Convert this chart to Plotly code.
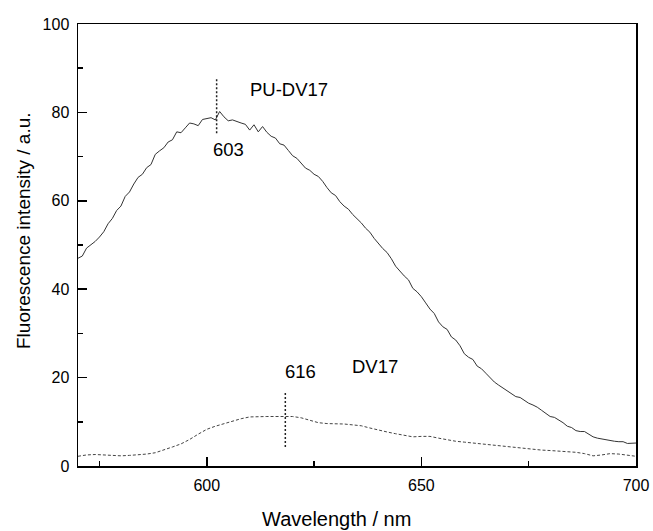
import plotly.graph_objects as go

# PU-DV17 (solid), 1 nm steps 570..700
wl_pu = list(range(570, 701))
pu_dv17 = [47.0, 47.5, 49.3, 50.0, 50.8, 51.8, 53.0, 54.8, 56.0, 57.8,
           58.8, 61.0, 62.0, 63.8, 65.3, 66.0, 67.5, 68.2, 70.5, 71.3,
           72.0, 73.3, 73.8, 75.6, 75.4, 76.5, 77.6, 77.4, 77.0, 78.4,
           78.6, 78.8, 78.3, 80.2, 79.0, 78.1, 78.3, 77.9, 77.6, 77.3,
           76.0, 77.2, 75.6, 76.8, 75.5, 74.6, 74.2, 72.9, 72.6, 71.4,
           70.2, 69.6, 68.4, 67.4, 66.9, 66.0, 65.5, 64.4, 63.0, 61.8,
           61.2, 59.8, 58.8, 58.1, 56.9, 56.0, 55.0, 53.8, 52.9, 51.5,
           50.3, 49.2, 48.3, 46.9, 45.2, 44.0, 43.0, 42.1, 40.2, 39.4,
           38.3, 36.9, 35.5, 34.5, 32.6, 31.5, 30.9, 29.2, 28.5, 27.2,
           25.4, 24.6, 24.1, 22.6, 22.0, 21.0, 20.0, 19.0, 18.3, 17.7,
           16.9, 16.3, 15.7, 15.5, 14.8, 14.2, 13.8, 13.3, 12.6, 11.8,
           11.2, 11.0, 10.4, 9.8, 9.0, 8.7, 8.0, 7.8, 7.8, 7.2,
           6.6, 6.3, 6.1, 5.9, 5.8, 5.6, 5.5, 5.5, 5.1, 5.2, 5.2]

# DV17 (dashed), 2 nm steps 570..700
wl_dv = list(range(570, 701, 2))
dv17 = [2.2, 2.5, 2.6, 2.5, 2.3, 2.3, 2.4, 2.5, 2.7, 3.0,
        3.6, 4.3, 5.0, 6.0, 7.2, 8.3, 9.0, 9.6, 10.2, 10.7,
        11.1, 11.2, 11.2, 11.2, 11.2, 11.2, 10.9, 10.3, 9.8, 9.6,
        9.6, 9.5, 9.3, 9.1, 8.6, 8.1, 7.7, 7.3, 6.9, 6.6,
        6.7, 6.7, 6.3, 5.9, 5.6, 5.4, 5.2, 5.0, 4.8, 4.6,
        4.3, 4.1, 3.9, 3.7, 3.6, 3.5, 3.4, 3.3, 3.1, 2.8,
        2.3, 2.5, 2.8, 2.7, 2.4, 2.2]

# peak marker lines
peak_pu_x = [602.3, 602.3]
peak_pu_y = [75.3, 87.8]
peak_dv_x = [618.3, 618.3]
peak_dv_y = [4.3, 16.5]

FONT = "Liberation Sans, Arial, sans-serif"

PL, PT, PW, PH = 78, 24, 558, 442

fig = go.Figure()
fig.add_trace(go.Scatter(x=wl_pu, y=pu_dv17, mode="lines",
                         line=dict(color="#333333", width=1)))
fig.add_trace(go.Scatter(x=wl_dv, y=dv17, mode="lines",
                         line=dict(color="#444444", width=1, dash="3px,2px")))
fig.add_trace(go.Scatter(x=peak_pu_x, y=peak_pu_y, mode="lines",
                         line=dict(color="#222222", width=1.5, dash="2px,2px")))
fig.add_trace(go.Scatter(x=peak_dv_x, y=peak_dv_y, mode="lines",
                         line=dict(color="#222222", width=1.5, dash="2px,2px")))

annots = [("PU-DV17", 619.2, 85.2), ("603", 605.1, 71.6),
          ("616", 621.8, 21.3), ("DV17", 639.2, 22.5)]
for t, x, y in annots:
    fig.add_annotation(x=x, y=y, text=t, showarrow=False,
                       font=dict(family=FONT, size=18.5, color="black"))

# axis titles as paper annotations
fig.add_annotation(x=(336 - PL) / PW, y=(PT + PH - 519) / PH, xref="paper", yref="paper",
                   text="Wavelength / nm", showarrow=False,
                   xanchor="center", yanchor="middle",
                   font=dict(family=FONT, size=20, color="black"))
fig.add_annotation(x=(23 - PL) / PW, y=(PT + PH - 231) / PH, xref="paper", yref="paper",
                   text="Fluorescence intensity / a.u.", showarrow=False, textangle=-90,
                   xanchor="center", yanchor="middle",
                   font=dict(family=FONT, size=19, color="black"))

fig.update_layout(
    width=653, height=531,
    margin=dict(l=PL, r=653 - PL - PW, t=PT, b=531 - PT - PH),
    plot_bgcolor="white", paper_bgcolor="white",
    showlegend=False, hovermode=False,
    font=dict(family=FONT, color="black"),
)
fig.update_xaxes(range=[570, 700], tick0=600, dtick=50, automargin=False,
                 showline=True, mirror=True, linecolor="black", linewidth=1.5,
                 ticks="inside", ticklen=9, tickwidth=1.5, tickcolor="black",
                 minor=dict(dtick=25, tick0=575, ticks="inside", ticklen=5,
                            tickwidth=1.5, tickcolor="black", showgrid=False),
                 showgrid=False, zeroline=False, ticklabeloverflow="allow",
                 tickfont=dict(size=16, family=FONT), ticklabelstandoff=4)
fig.update_yaxes(range=[0, 100], tick0=0, dtick=20, automargin=False,
                 showline=True, mirror=True, linecolor="black", linewidth=1.5,
                 ticks="inside", ticklen=9, tickwidth=1.5, tickcolor="black",
                 minor=dict(dtick=10, ticks="inside", ticklen=5,
                            tickwidth=1.5, tickcolor="black", showgrid=False),
                 showgrid=False, zeroline=False,
                 tickfont=dict(size=16, family=FONT), ticklabelstandoff=4)

fig.write_html("out.html", config={"displayModeBar": False, "staticPlot": True},
               post_script="document.body.style.margin='0';document.body.style.overflow='hidden';")
